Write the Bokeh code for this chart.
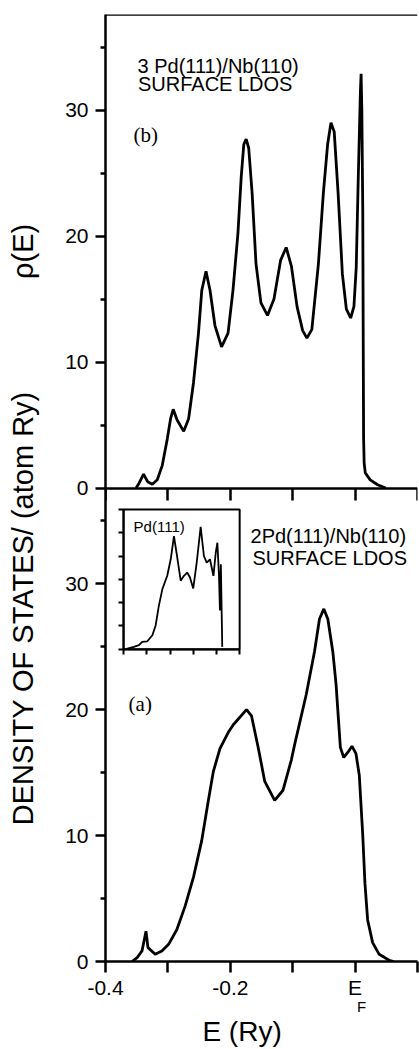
import math
from bokeh.plotting import figure
from bokeh.models import Range1d, LinearAxis, FixedTicker, Label, Span
from bokeh.embed import file_html
from bokeh.resources import INLINE

# ---------------- data ----------------
# (b) 3 Pd(111)/Nb(110) surface LDOS
E_3pd = [-0.351, -0.346, -0.339, -0.3325, -0.325, -0.317, -0.309, -0.301, -0.2957, -0.2915,
         -0.2852, -0.2747, -0.2668, -0.2589, -0.251, -0.2457, -0.2389, -0.2325, -0.2246, -0.214,
         -0.2036, -0.1957, -0.1878, -0.1825, -0.1783, -0.1746, -0.1705, -0.165, -0.1588, -0.1509,
         -0.1404, -0.13, -0.1193, -0.1104, -0.102, -0.093, -0.084, -0.0772, -0.0693, -0.0588,
         -0.0509, -0.044, -0.0387, -0.0335, -0.0272, -0.0204, -0.014, -0.0071, -0.0019, 0.0018,
         0.005, 0.0085, 0.0096, 0.0108, 0.0123, 0.013, 0.0136, 0.0145, 0.0163, 0.0242, 0.036, 0.049]
dos_3pd = [0.0, 0.4, 1.1, 0.5, 0.3, 0.65, 1.8, 3.9, 5.5, 6.25,
           5.4, 4.5, 5.5, 8.4, 12.3, 15.7, 17.2, 15.7, 12.9, 11.2,
           12.3, 15.7, 20.2, 24.7, 27.3, 27.7, 27.0, 23.4, 17.8, 14.7,
           13.7, 15.0, 18.1, 19.1, 17.6, 14.4, 12.5, 11.9, 12.6, 17.8,
           23.4, 27.3, 29.0, 28.3, 23.4, 17.0, 14.2, 13.5, 14.4, 17.5,
           24.5, 31.5, 32.9, 30.0, 22.0, 12.0, 4.0, 2.0, 1.2, 0.65, 0.26, 0.0]

# (a) 2 Pd(111)/Nb(110) surface LDOS
E_2pd = [-0.3574, -0.3494, -0.3415, -0.3351, -0.3319, -0.3203, -0.3096, -0.2989, -0.2856, -0.2724,
         -0.259, -0.2458, -0.2351, -0.2271, -0.2166, -0.2032, -0.1952, -0.174, -0.166, -0.1553,
         -0.1448, -0.1289, -0.1155, -0.1022, -0.097, -0.0783, -0.0651, -0.0571, -0.0501, -0.0437,
         -0.0357, -0.0305, -0.0268, -0.0236, -0.0182, -0.0118, -0.005, 0.0014, 0.0067, 0.0121,
         0.0158, 0.0201, 0.0281, 0.0386, 0.0545, 0.062]
dos_2pd = [0.0, 0.3, 0.84, 2.4, 1.1, 0.57, 0.84, 1.36, 2.54, 4.4,
           6.7, 9.6, 12.8, 15.1, 16.9, 18.2, 18.8, 20.0, 19.5, 17.0,
           14.3, 12.8, 13.6, 16.0, 17.2, 21.2, 24.6, 27.2, 28.0, 27.2,
           24.6, 22.0, 19.3, 17.0, 16.2, 16.6, 17.1, 16.5, 14.8, 10.2,
           6.2, 3.3, 1.5, 0.57, 0.1, 0.0]

# inset: Pd(111) (arbitrary inset units)
inset_x = [0.09, 0.44, 0.66, 0.8, 1.02, 1.24, 1.38, 1.52, 1.67, 1.88, 2.03, 2.17, 2.28, 2.46, 2.6,
           2.74, 2.86, 3.0, 3.15, 3.32, 3.46, 3.58, 3.72, 3.87, 3.97, 4.04, 4.11, 4.15, 4.19, 4.25]
inset_y = [0.0, 0.1, 0.17, 0.31, 0.34, 0.6, 1.02, 1.87, 2.58, 3.15, 3.86, 4.85, 4.14, 2.94, 3.15,
           3.29, 3.08, 2.61, 3.72, 5.25, 4.0, 3.72, 3.86, 3.15, 4.14, 4.57, 3.15, 1.66, 3.65, 0.1]

x_tick_vals = [-0.4, -0.3, -0.2, -0.1, 0, 0.1]
x_tick_labels = ["-0.4", "", "-0.2", "", "E", ""]
y_tick_vals = [0, 10, 20, 30]
y_tick_labels = ["0", "10", "20", "30"]
y_minor_vals = [5, 15, 25, 35]
inset_xticks = [0, 1, 2, 3, 4, 5]
inset_yticks = [0, 1, 2, 3, 4, 5, 6]

# ---------------- layout constants ----------------
XMIN, XMAX = -0.4, 0.1
YPANEL = 37.6
SANS = "Liberation Sans"
SERIF = "Liberation Serif"
INK = "black"
LW = 2.5
NB = "\u00a0"

p = figure(width=419, height=1049,
           x_range=Range1d(XMIN, XMAX), y_range=Range1d(0, 2 * YPANEL),
           output_backend="svg", toolbar_location=None,
           min_border_left=105, min_border_right=2, min_border_top=14, min_border_bottom=80)
p.extra_y_ranges = {"top": Range1d(-YPANEL, YPANEL)}
p.grid.visible = False
p.outline_line_color = None
p.background_fill_color = "white"
p.border_fill_color = "white"

# inset placement (in main data coords)
ix0, ix1, iy0, iy1 = -0.371, -0.185, 24.8, 35.9
sx = (ix1 - ix0) / inset_xticks[-1]
sy = (iy1 - iy0) / inset_yticks[-1]
p.extra_x_ranges = {"ix": Range1d((XMIN - ix0) / sx, (XMAX - ix0) / sx)}
p.extra_y_ranges["iy"] = Range1d((0 - iy0) / sy, (2 * YPANEL - iy0) / sy)


def style_axis(ax, tick_out, minor_out=0, font_size="21px"):
    ax.axis_line_width = LW
    ax.axis_line_color = INK
    ax.major_tick_line_width = LW
    ax.major_tick_line_color = INK
    ax.major_tick_in = 0
    ax.major_tick_out = tick_out
    if minor_out:
        ax.minor_tick_line_width = LW
        ax.minor_tick_line_color = INK
        ax.minor_tick_in = 0
        ax.minor_tick_out = minor_out
    else:
        ax.minor_tick_line_color = None
    ax.major_label_text_font = SANS
    ax.major_label_text_font_size = font_size
    ax.major_label_text_color = INK
    ax.axis_label_text_font = SANS
    ax.axis_label_text_font_style = "normal"
    ax.axis_label_text_color = INK


# bottom x axis
xa = p.xaxis[0]
xa.ticker = FixedTicker(ticks=x_tick_vals, minor_ticks=[])
xa.major_label_overrides = dict(zip(x_tick_vals, x_tick_labels))
style_axis(xa, 11)
xa.major_label_standoff = 3

# second row under the x axis: subscript "F" of E_F and the axis title
F_POS = 0.0103
xa2 = LinearAxis(ticker=FixedTicker(ticks=[F_POS], minor_ticks=[]))
style_axis(xa2, 0, font_size="15px")
xa2.axis_line_color = None
xa2.major_tick_line_color = None
xa2.major_label_overrides = {F_POS: "F"}
xa2.major_label_standoff = -4
xa2.axis_label = "E (Ry)" + NB * 5   # padding shifts the centred title left, as in the original
xa2.axis_label_text_font_size = "28px"
xa2.axis_label_standoff = -2
p.add_layout(xa2, "below")

# left y axis: both panels share it (lower panel a, upper panel b offset by one panel height)
ya = p.yaxis[0]
all_ticks = list(y_tick_vals) + [YPANEL + v for v in y_tick_vals]
all_minor = list(y_minor_vals) + [YPANEL + v for v in y_minor_vals]
ya.ticker = FixedTicker(ticks=all_ticks, minor_ticks=all_minor)
ya.major_label_overrides = dict(zip(all_ticks, y_tick_labels + y_tick_labels))
style_axis(ya, 10, 5)
ya.major_label_standoff = 7

# outer left axis carrying only the rotated title
ya2 = LinearAxis(ticker=FixedTicker(ticks=[], minor_ticks=[]))
style_axis(ya2, 0)
ya2.axis_line_color = None
ya2.major_tick_line_color = None
ya2.major_label_standoff = 0
ya2.axis_label = "DENSITY OF STATES/ (atom Ry)" + NB * 14 + "\u03c1(E)" + NB * 9
ya2.axis_label_text_font_size = "29px"
ya2.axis_label_standoff = 24
p.add_layout(ya2, "left")

# dividing x axis between panels (ticks pointing down)
xa_mid = LinearAxis(y_range_name="top", fixed_location=0,
                    ticker=FixedTicker(ticks=x_tick_vals, minor_ticks=[]))
xa_mid.major_label_overrides = {v: "" for v in x_tick_vals}
style_axis(xa_mid, 12)
p.add_layout(xa_mid, "below")

# top border
p.add_layout(Span(location=YPANEL, dimension="width", y_range_name="top",
                  line_color=INK, line_width=LW))

# curves
p.line(E_2pd, dos_2pd, line_color=INK, line_width=2.8)
p.line(E_3pd, dos_3pd, y_range_name="top", line_color=INK, line_width=2.8)

# inset
p.quad(left=[inset_xticks[0]], right=[inset_xticks[-1]], bottom=[inset_yticks[0]], top=[inset_yticks[-1]],
       x_range_name="ix", y_range_name="iy", fill_color=None, line_color=INK, line_width=2)
in_xa = LinearAxis(x_range_name="ix", y_range_name="iy", fixed_location=0,
                   bounds=(inset_xticks[0], inset_xticks[-1]),
                   ticker=FixedTicker(ticks=inset_xticks, minor_ticks=[]))
in_xa.major_label_overrides = {v: "" for v in inset_xticks}
style_axis(in_xa, 5)
in_xa.axis_line_width = 2
in_xa.major_tick_line_width = 2
p.add_layout(in_xa, "below")
in_ya = LinearAxis(x_range_name="ix", y_range_name="iy", fixed_location=0,
                   bounds=(inset_yticks[0], inset_yticks[-1]),
                   ticker=FixedTicker(ticks=inset_yticks, minor_ticks=[]))
in_ya.major_label_overrides = {v: "" for v in inset_yticks}
style_axis(in_ya, 5)
in_ya.axis_line_width = 2
in_ya.major_tick_line_width = 2
p.add_layout(in_ya, "left")
p.line(inset_x, inset_y, x_range_name="ix", y_range_name="iy", line_color=INK, line_width=1.8)


def lab(text, x, y, size, font=SANS, rng=None, xr=None, **kw):
    opts = dict(x=x, y=y, text=text, text_font=font, text_font_size=size,
                text_color=INK, text_baseline="alphabetic")
    if rng:
        opts["y_range_name"] = rng
    if xr:
        opts["x_range_name"] = xr
    opts.update(kw)
    p.add_layout(Label(**opts))


# texts inside the frame
lab("3 Pd(111)/Nb(110)", -0.3487, 33.5, "20px", rng="top")
lab("SURFACE  LDOS", -0.348, 32.05, "20px", rng="top")
lab("(b)", -0.355, 28.0, "21px", font=SERIF, rng="top")
lab("2Pd(111)/Nb(110)", -0.1676, 33.8, "20px")
lab("SURFACE LDOS", -0.1644, 32.05, "20px")
lab("(a)", -0.363, 20.47, "21px", font=SERIF)
lab("Pd(111)", 0.43, 5.28, "15px", rng="iy", xr="ix")

open("out.html", "w").write(file_html(p, INLINE))
